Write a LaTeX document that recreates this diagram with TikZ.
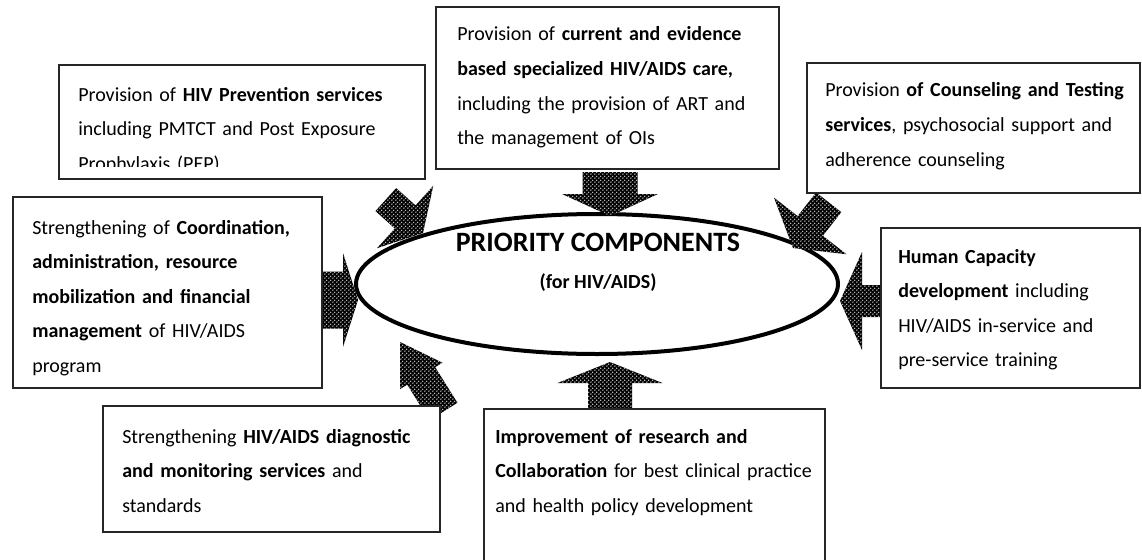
\documentclass[tikz,border=0pt]{standalone}
\usepackage{fontspec}
\setmainfont{Carlito}
\usetikzlibrary{patterns,fit,shapes.geometric}

% white dot grid laid over the black arrow fill
\pgfdeclarepatternformonly{dotgrid}{\pgfqpoint{0pt}{0pt}}{\pgfqpoint{3.2pt}{3.2pt}}{\pgfqpoint{3.2pt}{3.2pt}}{%
  \pgfpathcircle{\pgfqpoint{0.8pt}{0.8pt}}{0.62pt}%
  \pgfpathcircle{\pgfqpoint{2.4pt}{2.4pt}}{0.62pt}%
  \pgfusepath{fill}}

% Block arrow: tip x, tip y, direction, length, shaft width, head width, head length
\newcommand{\hatcharrow}[7]{%
  \begin{scope}[shift={(#1,#2)}, rotate=#3]
    \path[hatch] (0,0) -- (-#7,#6/2) -- (-#7,#5/2) -- (-#4,#5/2)
      -- (-#4,-#5/2) -- (-#7,-#5/2) -- (-#7,-#6/2) -- cycle;
  \end{scope}}

\tikzset{
  hatch/.style={fill=black, postaction={pattern=dotgrid, pattern color=white}},
  panel/.style={draw=black!85, line width=1.1pt, fill=white, rectangle, inner sep=0pt},
  paneltext/.style={anchor=base west, inner sep=0pt, align=left, text width=330pt,
    font=\fontsize{15pt}{25.9pt}\selectfont},
  core/.style={draw=black, line width=3pt, ellipse, inner sep=0pt,
    minimum width=361.5pt, minimum height=105pt}
}

\begin{document}
\begin{tikzpicture}[x=0.75pt,y=-0.75pt]
  \useasboundingbox (0,0) rectangle (1142,560);
  \clip (0,0) rectangle (1142,560);

  % central ellipse
  \node[core] (core) at (597,284) {};
  \node[anchor=base, inner sep=0pt, font=\bfseries\fontsize{21pt}{25pt}\selectfont] (title) at (598,251) {PRIORITY COMPONENTS};
  \node[anchor=base, inner sep=0pt, font=\bfseries\fontsize{15pt}{18pt}\selectfont] (subtitle) at (598,288) {(for HIV/AIDS)};

  % hatched block arrows pointing at the ellipse
  \hatcharrow{423}{233}{-42}{50}{31}{84}{24}
  \hatcharrow{610}{216}{-90}{44}{55}{96}{22}
  \hatcharrow{793}{248}{-128}{58}{32}{92}{28}
  \hatcharrow{840}{301}{180}{42}{32}{98}{22}
  \hatcharrow{358}{300}{0}{35}{57}{94}{15}
  \hatcharrow{400}{342}{122}{82}{33}{50}{40}
  \hatcharrow{610}{362}{90}{47}{44}{105}{21}

  % component boxes
  \node[panel, fit={(59,65) (425,179)}] (prevention) {};
  \node[panel, fit={(436,7) (779,169)}] (care) {};
  \node[panel, fit={(807,63) (1140,193)}] (counseling) {};
  \node[panel, fit={(13,197) (322,388)}] (coordination) {};
  \node[panel, fit={(881,228) (1140,388)}] (capacity) {};
  \node[panel, fit={(103,406) (440,532)}] (diagnostic) {};
  \node[panel, fit={(484,409) (825,580)}] (research) {};

  % box texts
  \begin{scope}
    \clip (59,65) rectangle (425,166);
    \node[paneltext] (prevention-text) at (78,101)
      {Provision of \textbf{HIV Prevention services}\\including PMTCT and Post Exposure\\Prophylaxis (PEP)};
  \end{scope}
  \node[paneltext] (care-text) at (457,41)
    {Provision of \textbf{current and evidence}\\\textbf{based specialized HIV/AIDS care,}\\including the provision of ART and\\the management of OIs};
  \node[paneltext] (counseling-text) at (825,97)
    {Provision \textbf{of Counseling and Testing}\\\textbf{services}, psychosocial support and\\adherence counseling};
  \node[paneltext] (coordination-text) at (32,234)
    {Strengthening of \textbf{Coordination,}\\\textbf{administration, resource}\\\textbf{mobilization and financial}\\\textbf{management} of HIV/AIDS\\program};
  \node[paneltext] (capacity-text) at (898,263)
    {\textbf{Human Capacity}\\\textbf{development} including\\HIV/AIDS in-service and\\pre-service training};
  \node[paneltext] (diagnostic-text) at (122,443)
    {Strengthening \textbf{HIV/AIDS diagnostic}\\\textbf{and monitoring services} and\\standards};
  \node[paneltext] (research-text) at (495,443)
    {\textbf{Improvement of research and}\\\textbf{Collaboration} for best clinical practice\\and health policy development};
\end{tikzpicture}
\end{document}
